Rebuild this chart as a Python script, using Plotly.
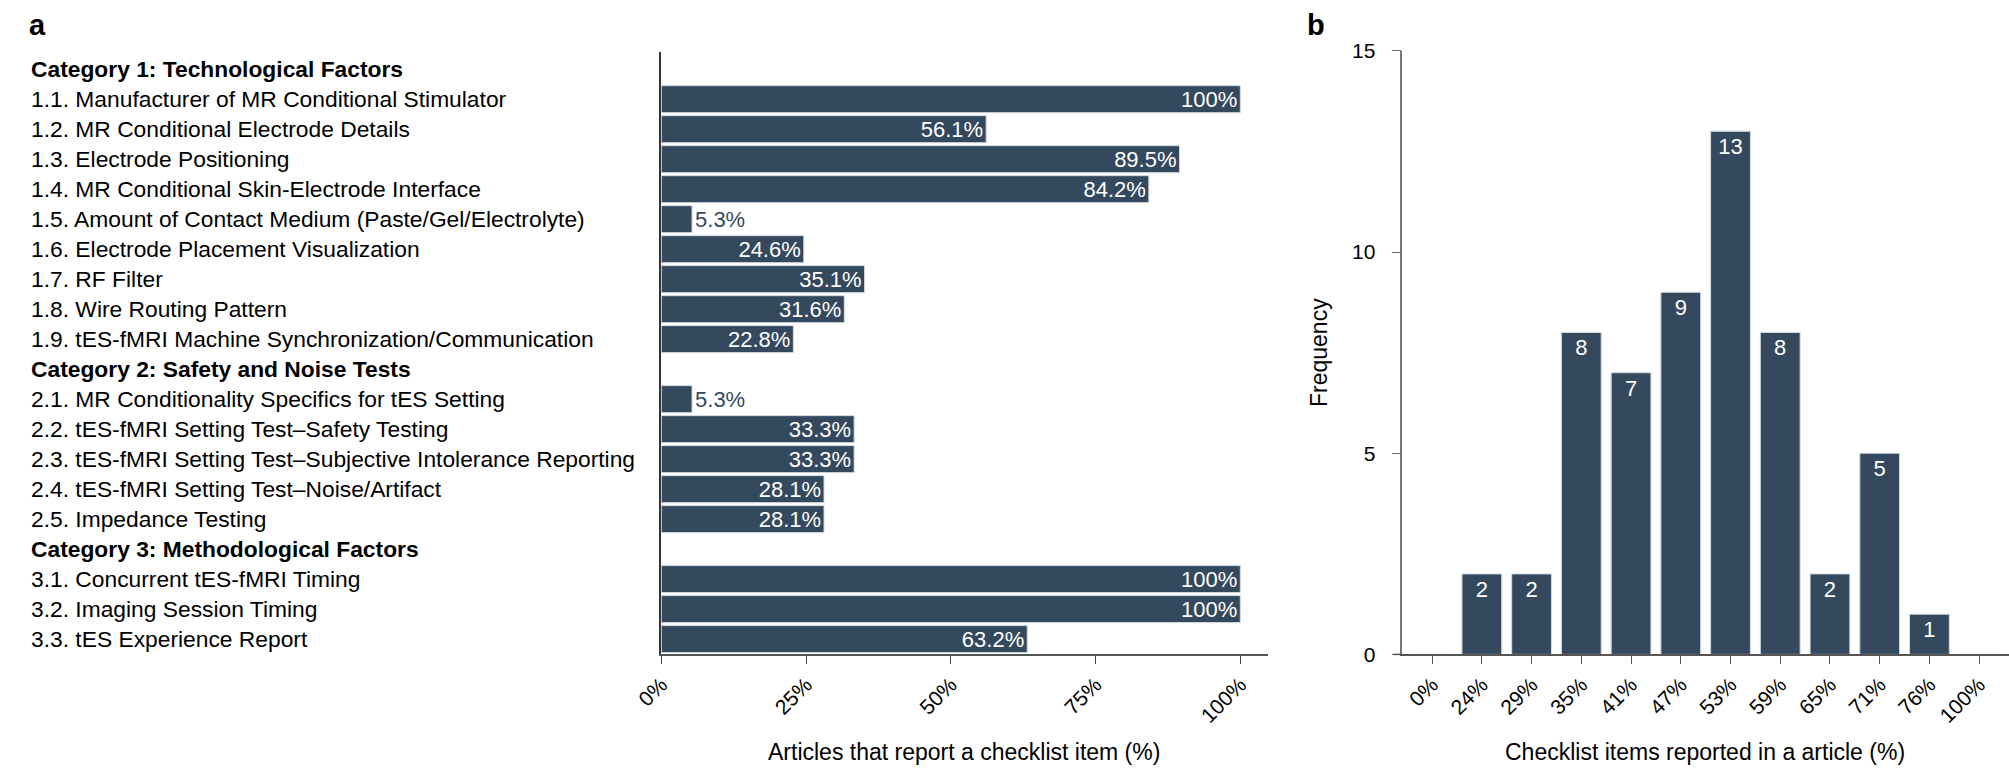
import plotly.graph_objects as go

# panel a data
cat_titles = ["Category 1: Technological Factors",
              "Category 2: Safety and Noise Tests",
              "Category 3: Methodological Factors"]
items_1 = ["1.1. Manufacturer of MR Conditional Stimulator",
           "1.2. MR Conditional Electrode Details",
           "1.3. Electrode Positioning",
           "1.4. MR Conditional Skin-Electrode Interface",
           "1.5. Amount of Contact Medium (Paste/Gel/Electrolyte)",
           "1.6. Electrode Placement Visualization",
           "1.7. RF Filter",
           "1.8. Wire Routing Pattern",
           "1.9. tES-fMRI Machine Synchronization/Communication"]
values_1 = [100, 56.1, 89.5, 84.2, 5.3, 24.6, 35.1, 31.6, 22.8]
items_2 = ["2.1. MR Conditionality Specifics for tES Setting",
           "2.2. tES-fMRI Setting Test–Safety Testing",
           "2.3. tES-fMRI Setting Test–Subjective Intolerance Reporting",
           "2.4. tES-fMRI Setting Test–Noise/Artifact",
           "2.5. Impedance Testing"]
values_2 = [5.3, 33.3, 33.3, 28.1, 28.1]
items_3 = ["3.1. Concurrent tES-fMRI Timing",
           "3.2. Imaging Session Timing",
           "3.3. tES Experience Report"]
values_3 = [100, 100, 63.2]
ticks_a = [0, 25, 50, 75, 100]

# panel b data
bins_b = ["0%", "24%", "29%", "35%", "41%", "47%", "53%", "59%", "65%", "71%", "76%", "100%"]
freq_b = [0, 2, 2, 8, 7, 9, 13, 8, 2, 5, 1, 0]

BAR = "#34495e"
EDGE = "#d3dbe2"
FONT = "Liberation Sans, Arial, sans-serif"
W, H = 2009, 777

def px_x(p):
    return p / W

def px_y(p):
    return 1 - p / H

# build row layout: header rows have no bar
rows = []      # (label, bold)
bar_y, bar_x = [], []
for title, items, vals in zip(cat_titles, [items_1, items_2, items_3], [values_1, values_2, values_3]):
    rows.append((title, True))
    for it, v in zip(items, vals):
        bar_y.append(len(rows))
        bar_x.append(v)
        rows.append((it, False))

small = [v < 10 for v in bar_x]
bar_text = [f"{v:g}%" for v in bar_x]

fig = go.Figure()

fig.add_trace(go.Bar(
    x=bar_x, y=bar_y, orientation="h", width=0.9,
    marker=dict(color=BAR, line=dict(color=EDGE, width=1)),
    text=bar_text,
    textposition=["outside" if s else "inside" for s in small],
    insidetextanchor="end", textangle=0, constraintext="none",
    textfont=dict(family=FONT, size=22, color=[BAR if s else "white" for s in small]),
    cliponaxis=False, hoverinfo="skip",
    xaxis="x", yaxis="y",
))

fig.add_trace(go.Bar(
    x=bins_b, y=freq_b, width=0.8,
    marker=dict(color=BAR, line=dict(color=EDGE, width=1)),
    text=[str(v) if v > 0 else "" for v in freq_b],
    textposition="inside", insidetextanchor="end", textangle=0, constraintext="none",
    textfont=dict(family=FONT, size=22, color="white"),
    hoverinfo="skip",
    xaxis="x2", yaxis="y2",
))

ann = []
for i, (lab, bold) in enumerate(rows):
    ann.append(dict(
        x=px_x(2), xref="paper", y=i, yref="y", xanchor="left", yanchor="middle",
        text=f"<b>{lab}</b>" if bold else lab, showarrow=False,
        font=dict(family=FONT, size=22.8, color="black"),
    ))

ann += [
    dict(x=px_x(950), y=px_y(763), xref="paper", yref="paper", showarrow=False,
         xanchor="center", yanchor="middle",
         text="Articles that report a checklist item (%)",
         font=dict(family=FONT, size=23, color="black")),
    dict(x=px_x(1701), y=px_y(763), xref="paper", yref="paper", showarrow=False,
         xanchor="center", yanchor="middle",
         text="Checklist items reported in a article (%)",
         font=dict(family=FONT, size=23, color="black")),
    dict(x=px_x(1309), y=px_y(351), xref="paper", yref="paper", showarrow=False,
         xanchor="center", yanchor="middle",
         text="Frequency", textangle=-90,
         font=dict(family=FONT, size=23, color="black")),
    dict(x=px_x(0), y=px_y(13), xref="paper", yref="paper", showarrow=False,
         xanchor="left", yanchor="middle", text="<b>a</b>",
         font=dict(family="Liberation Sans Narrow, Liberation Sans, Arial", size=29, color="black")),
    dict(x=px_x(1295), y=px_y(13), xref="paper", yref="paper", showarrow=False,
         xanchor="left", yanchor="middle", text="<b>b</b>",
         font=dict(family="Liberation Sans Narrow, Liberation Sans, Arial", size=29, color="black")),
]

fig.update_layout(
    width=W, height=H,
    margin=dict(l=0, r=0, t=0, b=0),
    paper_bgcolor="white", plot_bgcolor="white",
    showlegend=False,
    font=dict(family=FONT, size=21, color="black"),
    annotations=ann,
    xaxis=dict(
        domain=[px_x(643), px_x(1258)], range=[0, 104.8],
        tickvals=ticks_a, ticktext=[f"{t}%" for t in ticks_a], tickangle=-45,
        ticks="outside", ticklen=8, tickcolor="#444", tickfont=dict(size=21),
        showline=True, linecolor="#555", linewidth=1.5,
        showgrid=False, zeroline=False, anchor="y",
    ),
    yaxis=dict(
        domain=[px_y(662), px_y(41)], range=[19.51, -0.58],
        showticklabels=False, ticks="", showline=True, linecolor="#333",
        linewidth=1.5, showgrid=False, zeroline=False, anchor="x",
    ),
    xaxis2=dict(
        domain=[px_x(1394), 1.0], range=[-0.6, 11.6], type="category",
        categoryorder="array", categoryarray=bins_b, tickangle=-45,
        ticks="outside", ticklen=8, tickcolor="#555", tickfont=dict(size=21),
        showline=True, linecolor="#555", linewidth=1.5,
        showgrid=False, zeroline=False, anchor="y2",
    ),
    yaxis2=dict(
        domain=[px_y(662), px_y(40)], range=[0, 15],
        tickvals=[0, 5, 10, 15], ticks="outside", ticklen=9, tickcolor="#666",
        tickfont=dict(size=21), ticklabelstandoff=12,
        showline=True, linecolor="#777", linewidth=1.5,
        showgrid=False, zeroline=False, anchor="x2",
    ),
)

# the x axis line of panel b starts a little left of its y axis
fig.add_shape(type="line", xref="paper", yref="paper",
              x0=px_x(1385), x1=px_x(1394), y0=px_y(662), y1=px_y(662),
              line=dict(color="#555", width=1.5))

# drop the default page margin so the figure sits at the window's corner
fig.write_html("out.html", config={"displayModeBar": False},
               post_script="document.body.style.margin='0px';")
